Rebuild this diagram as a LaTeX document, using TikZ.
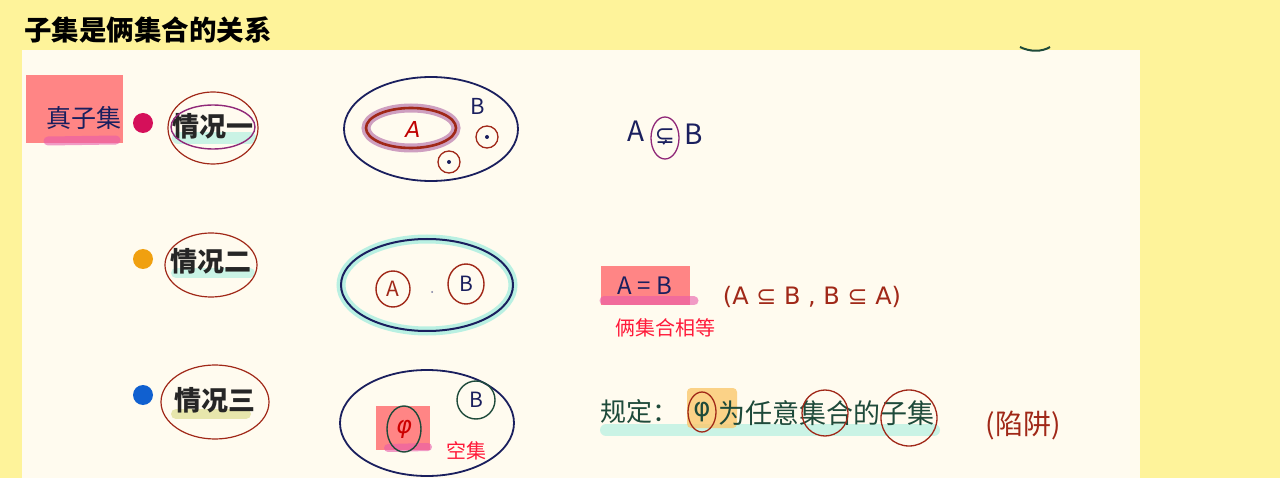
\documentclass[tikz,border=0pt]{standalone}
\usepackage{fontspec}
\newfontfamily\cjk{Noto Sans CJK SC}
\newfontfamily\sym{DejaVu Sans}
\definecolor{bgyellow}{RGB}{254,243,154}
\definecolor{panel}{RGB}{255,251,239}
\definecolor{pinkbox}{RGB}{255,133,133}
\definecolor{pinkhl}{RGB}{232,90,170}
\definecolor{navy}{RGB}{26,31,94}
\definecolor{dred}{RGB}{160,40,24}
\definecolor{purp}{RGB}{144,40,120}
\definecolor{cyanhl}{RGB}{168,238,223}
\definecolor{redtxt}{RGB}{255,26,58}
\definecolor{dgreen}{RGB}{30,74,58}
\definecolor{magdot}{RGB}{213,16,90}
\definecolor{orgdot}{RGB}{240,160,16}
\definecolor{bludot}{RGB}{16,96,208}
\definecolor{olivehl}{RGB}{216,216,128}
\definecolor{orghl}{RGB}{250,200,110}
\tikzset{
  hand/.style={font=\cjk\fontsize{#1}{#1}\selectfont, inner sep=0pt},
  casetxt/.style={font=\cjk\bfseries\fontsize{27}{27}\selectfont, inner sep=0pt, text=black!85},
  hl/.style={line width=#1, line cap=round, opacity=0.6},
  dotb/.style={circle, inner sep=0pt, minimum size=20pt},
}
\begin{document}
\begin{tikzpicture}[x=1pt,y=-1pt]
\useasboundingbox (0,0) rectangle (1280,478);
\fill[bgyellow] (0,0) rectangle (1280,478);
\fill[panel] (22,50) rectangle (1140,478);
% artifact arc at top
\draw[dgreen, line width=2pt] (1020,47) .. controls (1030,52) and (1042,52) .. (1050,47);

% title
\node[anchor=west, font=\cjk\bfseries\fontsize{27.5}{27.5}\selectfont, inner sep=0pt] (title) at (24,30) {子集是俩集合的关系};

% ---------- row 1 ----------
\fill[pinkbox] (26,75) rectangle (123,143);
\draw[pinkhl, hl=9pt] (48,141) -- (116,140);
\node[hand=25, text=navy] (zhen) at (84,118) {真子集};
\node[dotb, fill=magdot] (dot1) at (143,123) {};
\draw[cyanhl, hl=12pt] (178,138) -- (250,138);
\node[casetxt] (case1) at (213,126) {情况一};
\draw[dred, line width=1.2pt] (213,128) ellipse [x radius=45pt, y radius=36pt];
\draw[purp, line width=1.4pt] (213,127) ellipse [x radius=42pt, y radius=22pt];

\draw[navy, line width=1.8pt] (431,129) ellipse [x radius=87pt, y radius=52pt];
\draw[purp!55, line width=9pt, opacity=0.8] (411,128) ellipse [x radius=45pt, y radius=20pt];
\draw[dred, line width=2.6pt] (411,128) ellipse [x radius=45pt, y radius=20pt];
\node[font=\sym\itshape\fontsize{22}{22}\selectfont, inner sep=0pt, text=red!75!black] (setA1) at (413,129) {A};
\node[hand=22, text=navy] (setB1) at (478,106) {B};
\draw[dred, line width=1.3pt] (487,137) circle [radius=11pt];
\fill[navy] (487,137) circle [radius=2pt];
\draw[dred, line width=1.3pt] (449,162) circle [radius=11pt];
\fill[navy] (449,162) circle [radius=2pt];

\node[hand=28, text=navy] (r1A) at (636,131) {A};
\node[font=\sym\fontsize{24}{24}\selectfont, inner sep=0pt, text=navy] (r1sub) at (665,137) {⊊};
\draw[purp, line width=1.3pt] (665,138) ellipse [x radius=14pt, y radius=21pt];
\node[hand=28, text=navy] (r1B) at (694,134) {B};

% ---------- row 2 ----------
\node[dotb, fill=orgdot] (dot2) at (143,259) {};
\draw[cyanhl, hl=10pt] (176,273) -- (250,273);
\node[casetxt] (case2) at (211,261) {情况二};
\draw[dred, line width=1.2pt] (211,265) ellipse [x radius=46pt, y radius=32pt];

\draw[cyanhl, line width=9pt, opacity=0.8] (427,285) ellipse [x radius=86pt, y radius=46pt];
\draw[navy, line width=2pt] (427,285) ellipse [x radius=86pt, y radius=46pt];
\draw[dred, line width=1.4pt] (393,289) ellipse [x radius=17pt, y radius=18pt];
\node[hand=21, text=dred] (setA2) at (393,289) {A};
\fill[navy!60] (432,292) circle [radius=1pt];
\draw[dred, line width=1.4pt] (466,284) ellipse [x radius=18pt, y radius=20pt];
\node[hand=21, text=navy] (setB2) at (466,284) {B};

\fill[pinkbox] (601,266) rectangle (690,305);
\draw[pinkhl, hl=9pt] (604,301) -- (694,301);
\node[hand=24, text=navy] (eqAB) at (645,286) {A = B};
\node[font=\sym\fontsize{24}{24}\selectfont, inner sep=0pt, text=dred] (paren2) at (812,297) {(A ⊆ B ,  B ⊆ A)};
\node[hand=20, text=redtxt] (equal) at (665,328) {俩集合相等};

% ---------- row 3 ----------
\node[dotb, fill=bludot] (dot3) at (143,395) {};
\draw[olivehl, hl=10pt] (176,414) -- (246,414);
\node[casetxt] (case3) at (215,400) {情况三};
\draw[dred, line width=1.2pt] (215,402) ellipse [x radius=54pt, y radius=37pt];

\draw[navy, line width=1.8pt] (427,423) ellipse [x radius=87pt, y radius=53pt];
\fill[pinkbox] (376,406) rectangle (430,450);
\draw[pinkhl, hl=8pt] (388,448) -- (428,447);
\draw[dgreen, line width=1.4pt] (404,429) ellipse [x radius=17pt, y radius=23pt];
\node[font=\sym\itshape\fontsize{24}{24}\selectfont, inner sep=0pt, text=red!80!black] (phi) at (404,429) {φ};
\draw[dgreen, line width=1.4pt] (476,400) circle [radius=19pt];
\node[hand=21, text=navy] (setB3) at (476,400) {B};
\node[hand=20, text=redtxt] (empty) at (466,451) {空集};

\draw[cyanhl, hl=12pt] (606,430) -- (934,430);
\fill[orghl, opacity=0.8, rounded corners=4pt] (687,388) rectangle (737,428);
\node[hand=26, text=dgreen, anchor=west] (rule1) at (600,412) {规定：};
\node[font=\sym\fontsize{26}{26}\selectfont, inner sep=0pt, text=dgreen] (rphi) at (702,412) {φ};
\draw[dred, line width=1.3pt] (702,412) ellipse [x radius=14pt, y radius=20pt];
\node[hand=27, text=dgreen, anchor=west] (rule2) at (718,413) {为任意集合的子集};
\draw[dred, line width=1.3pt] (825,413) circle [radius=23pt];
\draw[dred, line width=1.3pt] (909,418) circle [radius=28pt];
\node[hand=28, text=dred] (trap) at (1023,425) {(陷阱)};
\end{tikzpicture}
\end{document}
